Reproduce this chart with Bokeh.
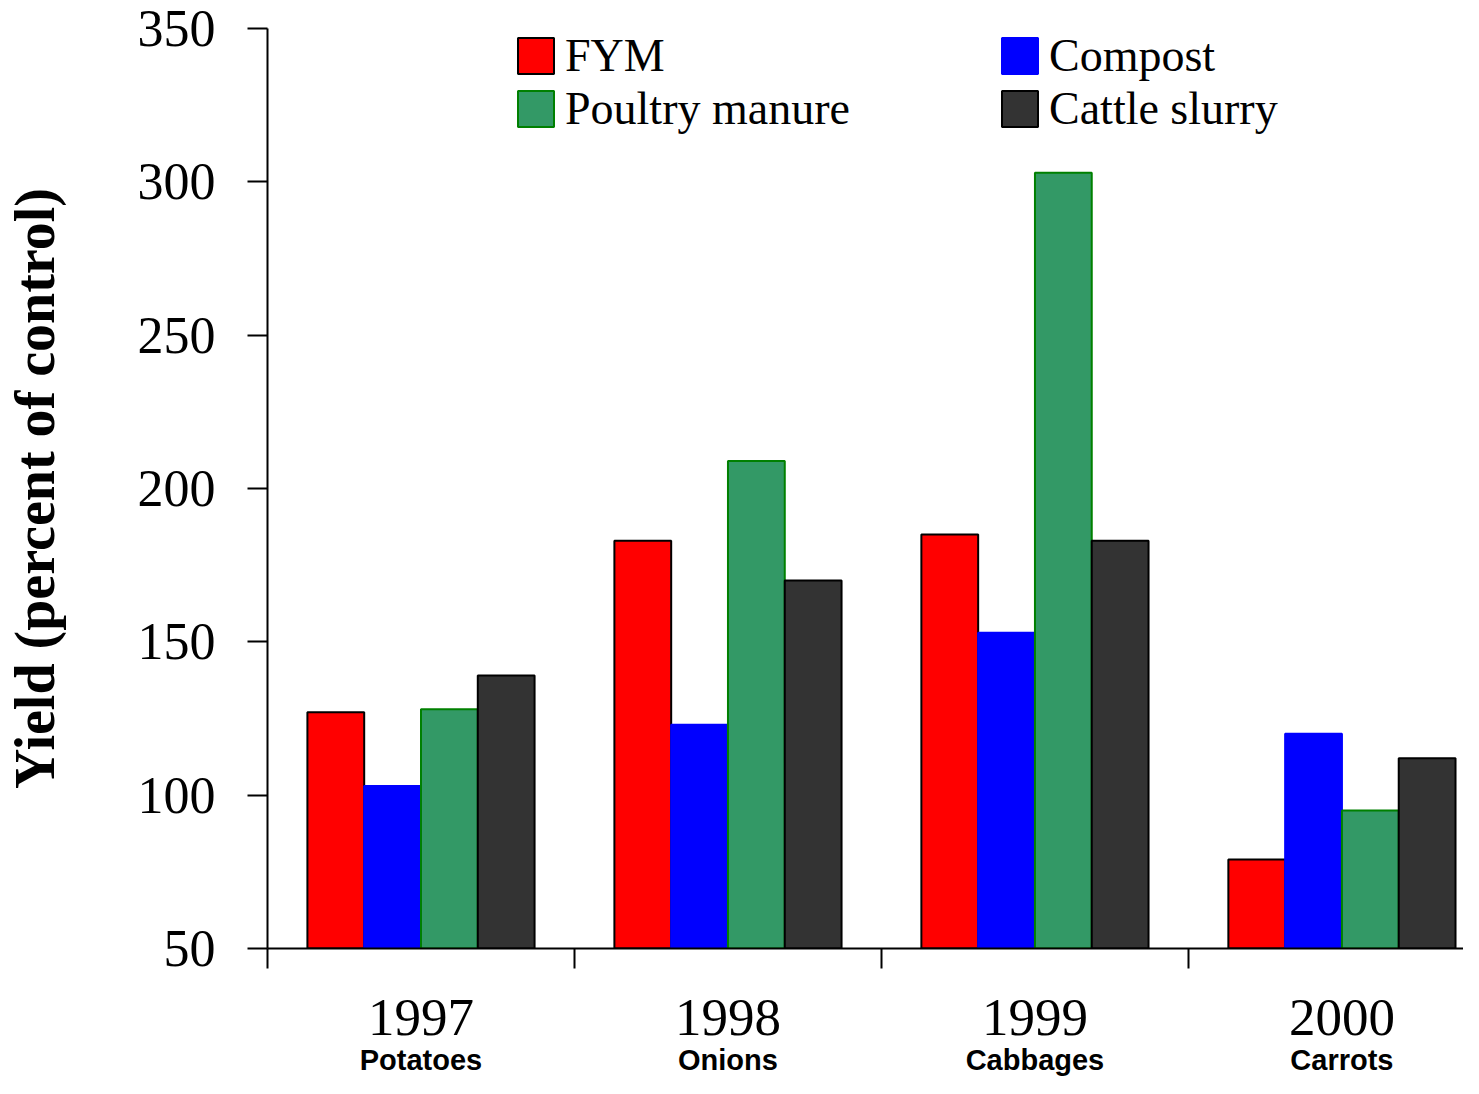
from bokeh.plotting import figure
from bokeh.models import (FixedTicker, Legend, LegendItem, Range1d, LinearAxis)
from bokeh.embed import file_html
from bokeh.resources import INLINE
from bokeh.transform import dodge

# ---- data ----
years = ["1997", "1998", "1999", "2000"]
crops = ["Potatoes", "Onions", "Cabbages", "Carrots"]
fym = [127, 183, 185, 79]
compost = [103, 123, 153, 120]
poultry = [128, 209, 303, 95]
cattle = [139, 170, 183, 112]
series_names = ["FYM", "Compost", "Poultry manure", "Cattle slurry"]
yticks = [50, 100, 150, 200, 250, 300, 350]

fills = ["#FF0000", "#0000FF", "#339966", "#333333"]
lines = ["#000000", "#0000FF", "#008000", "#000000"]

SERIF = "Liberation Serif"
SANS = "Liberation Sans"

group_pos = [i + 0.5 for i in range(len(years))]
bounds = [float(i) for i in range(len(years))]

Y0, Y1 = 50, 350
p = figure(width=1463, height=1078, output_backend="svg", toolbar_location=None,
           x_range=Range1d(0, 3.896), y_range=Range1d(Y0, Y1),
           min_border_left=267, min_border_top=28, min_border_right=0,
           min_border_bottom=130)
p.outline_line_color = None
p.grid.visible = False
p.background_fill_color = "white"
p.border_fill_color = "white"

bw = 0.185
data = dict(x=group_pos, fym=fym, compost=compost, poultry=poultry, cattle=cattle)
renderers = []
for i, key in enumerate(["fym", "compost", "poultry", "cattle"]):
    r = p.vbar(x=dodge("x", (i - 1.5) * bw), top=key, bottom=Y0, width=bw,
               source=data, fill_color=fills[i], line_color=lines[i], line_width=2)
    renderers.append(r)

# y axis
ya = p.yaxis[0]
ya.ticker = FixedTicker(ticks=yticks)
ya.axis_line_width = 2
ya.major_tick_line_width = 2
ya.major_tick_out = 20
ya.major_tick_in = 0
ya.minor_tick_line_color = None
ya.major_label_text_font = SERIF
ya.major_label_text_font_size = "52px"
ya.major_label_text_color = "black"
ya.major_label_standoff = 32
ya.axis_label = "Yield (percent of control)"
ya.axis_label_text_font = SERIF
ya.axis_label_text_font_size = "56px"
ya.axis_label_text_font_style = "bold"
ya.axis_label_text_color = "black"
ya.axis_label_standoff = 69

# x axis: year labels, boundary ticks
xa = p.xaxis[0]
xa.ticker = FixedTicker(ticks=group_pos, minor_ticks=bounds)
xa.major_label_overrides = {g: y for g, y in zip(group_pos, years)}
xa.axis_line_width = 2
xa.major_tick_out = 0
xa.major_tick_in = 0
xa.major_tick_line_color = None
xa.minor_tick_out = 20
xa.minor_tick_in = 0
xa.minor_tick_line_width = 2
xa.minor_tick_line_color = "black"
xa.major_label_text_font = SERIF
xa.major_label_text_font_size = "53px"
xa.major_label_text_color = "black"
xa.major_label_standoff = 31

# second x axis: crop names under the years
xc = LinearAxis(ticker=FixedTicker(ticks=group_pos, minor_ticks=[]))
xc.major_label_overrides = {g: c for g, c in zip(group_pos, crops)}
xc.axis_line_color = None
xc.major_tick_line_color = None
xc.minor_tick_line_color = None
xc.major_tick_out = 0
xc.major_tick_in = 0
xc.minor_tick_out = 0
xc.minor_tick_in = 0
xc.major_label_text_font = SANS
xc.major_label_text_font_size = "29px"
xc.major_label_text_font_style = "bold"
xc.major_label_text_color = "black"
xc.major_label_standoff = 6
p.add_layout(xc, "below")

# legends (two columns)
def make_legend(idx, loc):
    lg = Legend(items=[LegendItem(label=series_names[i], renderers=[renderers[i]]) for i in idx],
                location=loc, orientation="vertical")
    lg.border_line_color = None
    lg.background_fill_alpha = 0
    lg.padding = 0
    lg.margin = 0
    lg.spacing = -1
    lg.glyph_width = 45
    lg.glyph_height = 45
    lg.label_height = 52
    lg.label_standoff = 7
    lg.label_text_font = SERIF
    lg.label_text_font_size = "46px"
    lg.label_text_color = "black"
    return lg

p.add_layout(make_legend([0, 2], (246, 813)), "center")
p.add_layout(make_legend([1, 3], (730, 813)), "center")

open("out.html", "w").write(file_html(p, INLINE))
